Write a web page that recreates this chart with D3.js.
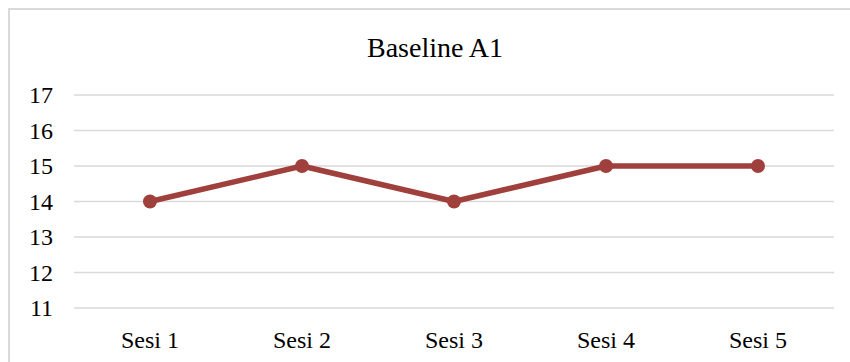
<!DOCTYPE html>
<html>
<head>
<meta charset="utf-8">
<script src="https://cdn.jsdelivr.net/npm/d3@7"></script>
<style>
  html, body { margin: 0; padding: 0; background: #fff; }
  svg { display: block; }
  text { font-family: "Liberation Serif", "DejaVu Serif", serif; fill: #000; }
</style>
</head>
<body>
<svg id="chart" width="850" height="362"></svg>
<script>
// Session scores for baseline phase A1
const sessions = ["Sesi 1", "Sesi 2", "Sesi 3", "Sesi 4", "Sesi 5"];
const scores = [14, 15, 14, 15, 15];
const yTicks = [11, 12, 13, 14, 15, 16, 17];
const chartTitle = "Baseline A1";

const svg = d3.select("#chart");
const margin = { left: 74, right: 16, top: 95, bottom: 54 };
const W = 850, H = 362;

// chart frame
svg.append("rect")
  .attr("x", 9).attr("y", 9)
  .attr("width", 860).attr("height", 370)
  .attr("fill", "#fff")
  .attr("stroke", "#d9d9d9")
  .attr("stroke-width", 2);

const x = d3.scaleBand()
  .domain(sessions)
  .range([margin.left, W - margin.right]);

const y = d3.scaleLinear()
  .domain([11, 17])
  .range([H - margin.bottom, margin.top]);

// horizontal gridlines
svg.append("g")
  .selectAll("line")
  .data(yTicks)
  .join("line")
  .attr("x1", margin.left)
  .attr("x2", W - margin.right)
  .attr("y1", d => y(d))
  .attr("y2", d => y(d))
  .attr("stroke", "#d9d9d9")
  .attr("stroke-width", 1.5);

// y axis labels
const yAxis = d3.axisLeft(y)
  .tickValues(yTicks)
  .tickFormat(d3.format("d"))
  .tickSize(0)
  .tickPadding(0);
const yg = svg.append("g")
  .attr("transform", `translate(${53},0)`)
  .call(yAxis);
yg.select(".domain").remove();
yg.selectAll("text")
  .attr("font-size", 24)
  .attr("fill", "#000")
  .attr("dy", "0.33em");

// x axis labels
const xAxis = d3.axisBottom(x).tickSize(0).tickPadding(0);
const xg = svg.append("g")
  .attr("transform", `translate(0,${348})`)
  .call(xAxis);
xg.select(".domain").remove();
xg.selectAll("text")
  .attr("font-size", 24)
  .attr("fill", "#000")
  .attr("dy", "0");

// title
svg.append("text")
  .attr("x", 435)
  .attr("y", 57)
  .attr("text-anchor", "middle")
  .attr("font-size", 28)
  .text(chartTitle);

const cx = d => x(d) + x.bandwidth() / 2;
const lineColor = "#a0403c";

// series line
const line = d3.line()
  .x((d, i) => cx(sessions[i]))
  .y(d => y(d));

svg.append("path")
  .datum(scores)
  .attr("d", line)
  .attr("fill", "none")
  .attr("stroke", lineColor)
  .attr("stroke-width", 5.5)
  .attr("stroke-linejoin", "round")
  .attr("stroke-linecap", "round");

// markers
svg.append("g")
  .selectAll("circle")
  .data(scores)
  .join("circle")
  .attr("cx", (d, i) => cx(sessions[i]))
  .attr("cy", d => y(d))
  .attr("r", 7)
  .attr("fill", lineColor);
</script>
</body>
</html>
